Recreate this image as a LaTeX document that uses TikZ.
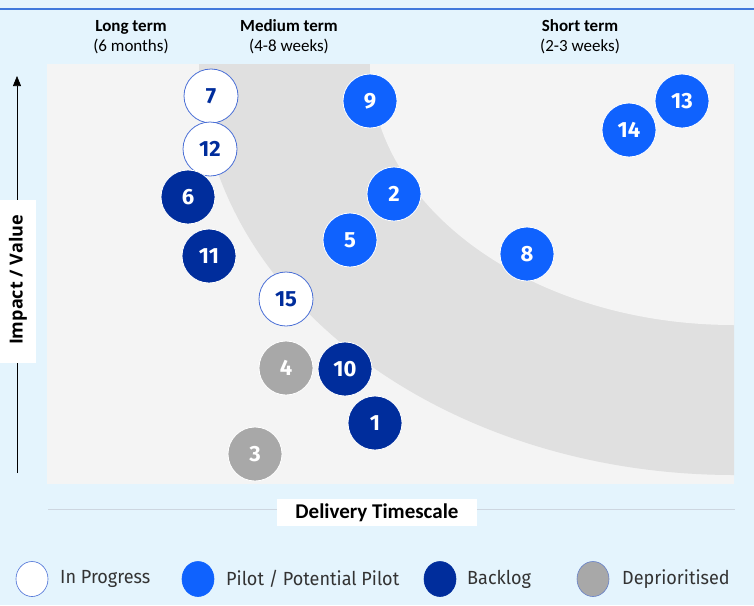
\documentclass[tikz,border=0pt]{standalone}
\usepackage{fontspec}
\setmainfont{Carlito}
\newfontfamily\numfont{Fira Sans}
\newfontfamily\legfont[FakeStretch=0.95]{Fira Sans}
\newfontfamily\yfont{Open Sans}
\usetikzlibrary{arrows.meta,shapes.geometric}
\definecolor{bgblue}{HTML}{E4F4FD}
\definecolor{topline}{HTML}{3F78DC}
\definecolor{plotbg}{HTML}{F4F4F4}
\definecolor{bandgray}{HTML}{E0E0E0}
\definecolor{pilot}{HTML}{0F62FE}
\definecolor{backlog}{HTML}{002D9C}
\definecolor{deprio}{HTML}{A8A8A8}
\definecolor{progborder}{HTML}{4A6FD6}
\definecolor{axisline}{HTML}{CDD6E0}
\definecolor{legtext}{HTML}{333333}
\tikzset{
  bubble/.style={circle, minimum size=54pt, inner sep=0pt, line width=0.8pt,
    font=\numfont\bfseries\fontsize{22}{22}\selectfont},
  inprog/.style={bubble, fill=white, draw=progborder, text=backlog},
  pilotb/.style={bubble, fill=pilot, draw=white, text=white},
  backb/.style={bubble, fill=backlog, draw=white, text=white},
  deprb/.style={bubble, fill=deprio, draw=white, text=white},
  legdot/.style={ellipse, minimum width=32pt, minimum height=35pt, inner sep=0pt, line width=0.6pt},
  legtxt/.style={anchor=west, inner sep=0pt, text=legtext, font=\legfont\fontsize{19}{19}\selectfont},
  head/.style={align=center, font=\fontsize{17}{20}\selectfont, inner sep=0pt},
}
\begin{document}
\begin{tikzpicture}[x=1pt,y=-1pt]
\useasboundingbox (0,0) rectangle (754,605);
\fill[bgblue] (0,0) rectangle (754,605);
\draw[topline, line width=1.6pt] (0,9) -- (754,9);
% plot area
\fill[plotbg] (47,64) rectangle (734,484);
\begin{scope}
  \clip (47,64) rectangle (734,484);
  \fill[bandgray] (734,64) ellipse [x radius=535pt, y radius=411pt];
  \fill[plotbg] (734,64) ellipse [x radius=364pt, y radius=261pt];
\end{scope}
% headers
\node[head] (hl) at (131,37) {\textbf{Long term}\\(6 months)};
\node[head] (hm) at (289,37) {\textbf{Medium term}\\(4-8 weeks)};
\node[head] (hs) at (580,37) {\textbf{Short term}\\(2-3 weeks)};
% y axis
\coordinate (ybot) at (17,473);
\coordinate (ytop) at (17,76);
\draw[black, line width=0.7pt, -{Triangle[length=10pt,width=8pt]}] (ybot) -- (ytop);
\node[fill=white, minimum width=36pt, minimum height=163pt, inner sep=0pt] (ylab) at (18,281.5) {};
\node[rotate=90, font=\yfont\bfseries\fontsize{18}{18}\selectfont] (ytext) at (18,280) {Impact / Value};
% x axis
\coordinate (xl) at (48,509);
\coordinate (xr) at (735,509);
\draw[axisline, line width=0.8pt] (xl) -- (xr);
\node[fill=white, minimum width=200pt, minimum height=27pt, inner sep=0pt,
  font=\bfseries\fontsize{21}{21}\selectfont] (xlab) at (377,512.5) {Delivery Timescale};
% bubbles
\node[inprog] (b7) at (211,96) {7};
\node[inprog] (b12) at (210,149) {12};
\node[backb] (b6) at (188,197) {6};
\node[backb] (b11) at (209,256) {11};
\node[inprog] (b15) at (286,299) {15};
\node[deprb] (b4) at (286,368) {4};
\node[backb] (b10) at (345,369) {10};
\node[backb] (b1) at (375,423) {1};
\node[deprb] (b3) at (255,454) {3};
\node[pilotb] (b9) at (370,101) {9};
\node[pilotb] (b2) at (394,194) {2};
\node[pilotb] (b5) at (350,240) {5};
\node[pilotb] (b8) at (527,254) {8};
\node[pilotb] (b14) at (629,130) {14};
\node[pilotb] (b13) at (682,101) {13};
% legend
\node[legdot, fill=white, draw=progborder] (l1) at (32,579) {};
\node[legtxt] (t1) at (60,579) {In Progress};
\node[legdot, fill=pilot, draw=pilot] (l2) at (198,579) {};
\node[legtxt] (t2) at (226,579) {Pilot / Potential Pilot};
\node[legdot, fill=backlog, draw=backlog] (l3) at (440,579) {};
\node[legtxt] (t3) at (467,579) {Backlog};
\node[legdot, fill=deprio, draw=progborder!70!deprio] (l4) at (593,579) {};
\node[legtxt] (t4) at (622,579) {Deprioritised};
\end{tikzpicture}
\end{document}
